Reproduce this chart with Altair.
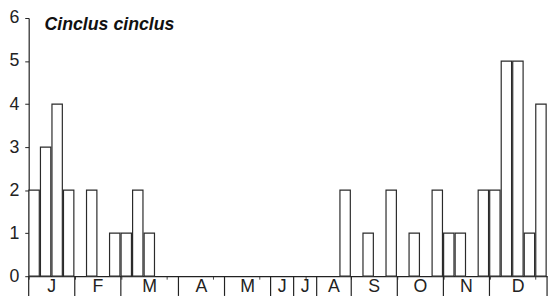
import altair as alt
import pandas as pd

months = ["J", "F", "M", "A", "M", "J", "J", "A", "S", "O", "N", "D"]
slots_per_month = [4, 4, 5, 4, 4, 2, 2, 3, 4, 4, 4, 5]
counts = [2, 3, 4, 2,
          0, 2, 0, 1,
          1, 2, 1, 0, 0,
          0, 0, 0, 0,
          0, 0, 0, 0,
          0, 0,
          0, 0,
          0, 0, 2,
          0, 1, 0, 2,
          0, 1, 0, 2,
          1, 1, 0, 2,
          2, 5, 5, 1, 4]
title_text = "Cinclus cinclus"

n = len(counts)
bars = pd.DataFrame({
    "start": [i + 0.02 for i in range(n)],
    "end": [i + 0.92 for i in range(n)],
    "count": counts,
    "base": [0] * n,
})
bars = bars[bars["count"] > 0]

bounds = [0]
for s in slots_per_month:
    bounds.append(bounds[-1] + s)
centers = [(bounds[i] + bounds[i + 1]) / 2 for i in range(len(months))]
bdf = pd.DataFrame({"b": bounds})
mdf = pd.DataFrame({"c": centers, "m": months})

font = "Liberation Sans"
xscale = alt.Scale(domain=[0, n], nice=False, zero=False)

bar_layer = alt.Chart(bars).mark_bar(
    fill="white", stroke="#2a2a2a", strokeWidth=1.2
).encode(
    x=alt.X("start:Q", scale=xscale,
            axis=alt.Axis(values=list(range(n + 1)), tickSize=3, labels=False,
                          title=None, grid=False, domainColor="#222",
                          tickColor="#444", domainWidth=1.2)),
    x2="end:Q",
    y=alt.Y("count:Q", scale=alt.Scale(domain=[0, 6], nice=False),
            axis=alt.Axis(values=list(range(7)), tickSize=4, labelPadding=6,
                          labelFont=font, labelFontSize=18, labelColor="#222",
                          title=None, grid=False, domainColor="#222",
                          tickColor="#222", domainWidth=1.2)),
    y2="base:Q",
)

rule_layer = alt.Chart(bdf).mark_rule(color="#222", strokeWidth=1.2).encode(
    x=alt.X("b:Q", scale=xscale),
    y=alt.value(262),
    y2=alt.value(282),
)

label_layer = alt.Chart(mdf).mark_text(
    font=font, fontSize=18, color="#222", baseline="middle", align="center"
).encode(
    x=alt.X("c:Q", scale=xscale),
    y=alt.value(273),
    text="m:N",
)

title_layer = alt.Chart(pd.DataFrame({"t": [title_text]})).mark_text(
    font=font, fontSize=18, fontWeight="bold", fontStyle="italic",
    color="#111", align="left", baseline="alphabetic"
).encode(
    x=alt.value(16),
    y=alt.value(12),
    text="t:N",
)

chart = alt.layer(bar_layer, rule_layer, label_layer, title_layer).properties(
    width=526,
    height=262,
    autosize=alt.AutoSizeParams(type="none"),
    padding={"left": 21, "top": 8, "right": 4, "bottom": 24},
    background="white",
).configure_view(stroke=None)

chart.save("out.html", embed_options={"renderer": "svg", "actions": False})
